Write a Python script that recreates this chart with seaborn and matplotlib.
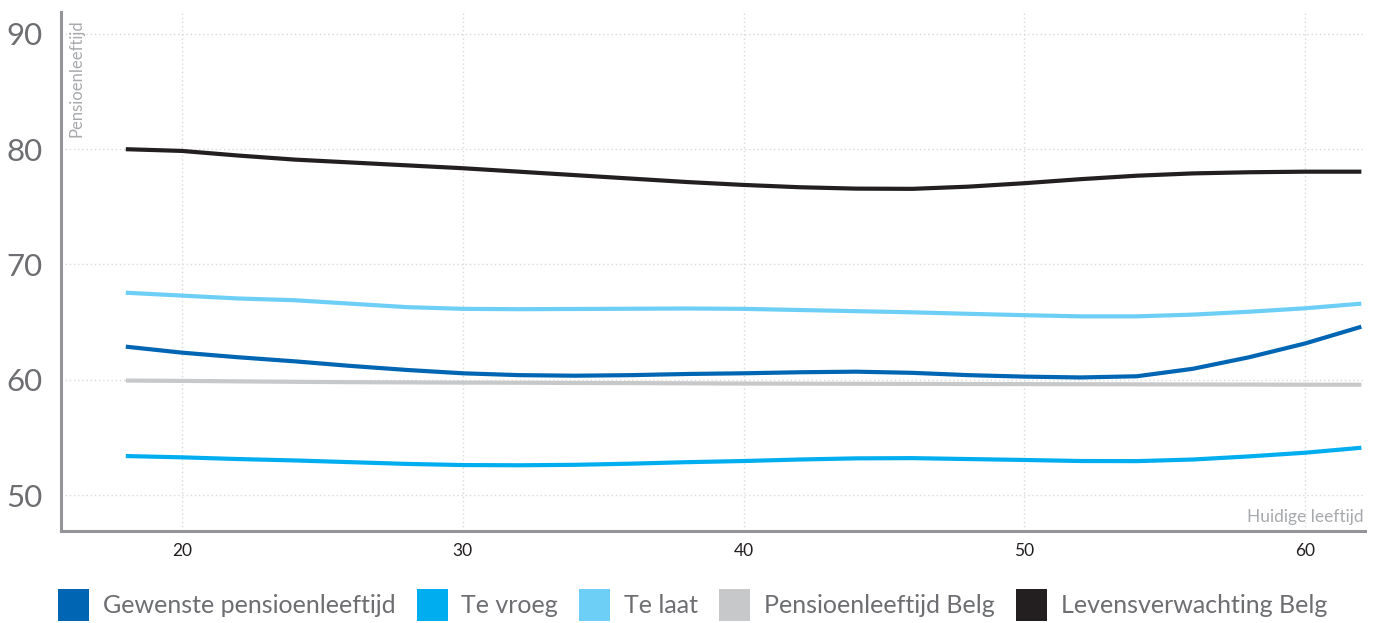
import pandas as pd
import seaborn as sns
import matplotlib
matplotlib.use("Agg")
import matplotlib.pyplot as plt
from matplotlib.patches import Patch

# Huidige leeftijd (x) en pensioenleeftijd per reeks (y)
ages = [18, 20, 22, 24, 26, 28, 30, 32, 34, 36, 38, 40,
        42, 44, 46, 48, 50, 52, 54, 56, 58, 60, 62]
gewenste = [62.87, 62.35, 61.95, 61.6, 61.2, 60.85, 60.56, 60.4, 60.35, 60.4, 60.5, 60.56,
            60.65, 60.7, 60.6, 60.4, 60.27, 60.2, 60.3, 60.95, 61.95, 63.15, 64.6]
te_vroeg = [53.38, 53.27, 53.12, 53.0, 52.85, 52.7, 52.6, 52.58, 52.62, 52.72, 52.85, 52.95,
            53.08, 53.18, 53.2, 53.12, 53.04, 52.95, 52.94, 53.08, 53.35, 53.67, 54.1]
te_laat = [67.55, 67.3, 67.05, 66.9, 66.6, 66.3, 66.15, 66.12, 66.14, 66.16, 66.18, 66.15,
           66.05, 65.95, 65.85, 65.72, 65.6, 65.5, 65.5, 65.65, 65.9, 66.2, 66.6]
pensioen_belg = [59.93, 59.9, 59.86, 59.82, 59.79, 59.77, 59.75, 59.74, 59.72, 59.71, 59.69, 59.67,
                 59.66, 59.65, 59.64, 59.63, 59.62, 59.61, 59.6, 59.59, 59.58, 59.57, 59.57]
levens_belg = [80.0, 79.85, 79.45, 79.1, 78.85, 78.6, 78.35, 78.05, 77.75, 77.45, 77.15, 76.9,
               76.7, 76.58, 76.56, 76.75, 77.05, 77.4, 77.7, 77.9, 78.0, 78.05, 78.05]

labels = ["Gewenste pensioenleeftijd", "Te vroeg", "Te laat",
          "Pensioenleeftijd Belg", "Levensverwachting Belg"]
colors = ["#0066b3", "#00aeef", "#6dcff6", "#c7c8ca", "#231f20"]
xticks = [20, 30, 40, 50, 60]
yticks = [50, 60, 70, 80, 90]

series = [gewenste, te_vroeg, te_laat, pensioen_belg, levens_belg]
df = pd.concat([pd.DataFrame({"leeftijd": ages, "waarde": s, "reeks": lab})
                for s, lab in zip(series, labels)], ignore_index=True)
palette = dict(zip(labels, colors))

sns.set_style("white")
plt.rcParams["font.family"] = ["Lato", "DejaVu Sans"]

fig = plt.figure(figsize=(13.82, 6.23), dpi=100)
ax = fig.add_axes([0.0441, 0.1477, 0.9436, 0.833])

draw_order = ["Pensioenleeftijd Belg", "Te vroeg", "Te laat",
              "Gewenste pensioenleeftijd", "Levensverwachting Belg"]
sns.lineplot(data=df, x="leeftijd", y="waarde", hue="reeks", hue_order=draw_order,
             palette=palette, linewidth=3, legend=False, solid_capstyle="butt", ax=ax)

ax.set_xlim(15.69, 62.13)
ax.set_ylim(46.88, 91.9)
ax.set_xticks(xticks)
ax.set_yticks(yticks)
ax.grid(True, color="#d9d9d9", linestyle=(0, (1, 2)), linewidth=1)
ax.set_axisbelow(True)
ax.set_xlabel("")
ax.set_ylabel("")

for side in ["top", "right"]:
    ax.spines[side].set_visible(False)
for side in ["left", "bottom"]:
    ax.spines[side].set_color("#939598")
    ax.spines[side].set_linewidth(2.2)

ax.tick_params(axis="y", length=0, pad=13, labelsize=22.5, labelcolor="#6d6e71")
ax.tick_params(axis="x", length=0, pad=9, labelsize=12.5, labelcolor="#231f20")

ax.text(0.0123, 0.985, "Pensioenleeftijd", rotation=90, transform=ax.transAxes,
        ha="center", va="top", fontsize=12, color="#a7a9ac")
ax.text(0.999, 0.026, "Huidige leeftijd", transform=ax.transAxes,
        ha="right", va="center", fontsize=12.5, color="#a7a9ac")

handles = [Patch(facecolor=c, edgecolor="none", label=l) for l, c in zip(labels, colors)]
fig.legend(handles=handles, loc="center left", bbox_to_anchor=(0.042, 0.029), ncol=5,
           frameon=False, fontsize=18, handlelength=1.24, handleheight=1.55,
           handletextpad=0.55, columnspacing=0.85, borderpad=0, borderaxespad=0,
           labelcolor="#6d6e71")

fig.savefig("out.png", dpi=100)
